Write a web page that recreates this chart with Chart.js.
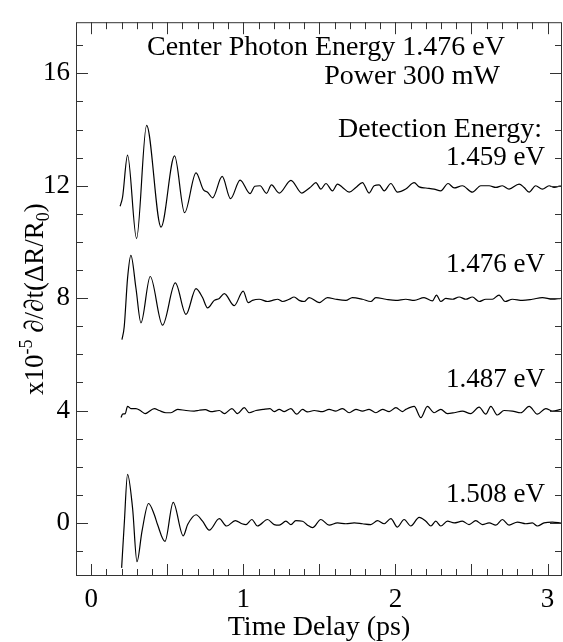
<!DOCTYPE html>
<html>
<head>
<meta charset="utf-8">
<script src="https://cdn.jsdelivr.net/npm/chart.js@4.4.0/dist/chart.umd.min.js"></script>
<style>
  html, body { margin: 0; padding: 0; background: #fff; }
</style>
</head>
<body>
<canvas id="chart" width="563" height="642"></canvas>
<script>
// time delay (ps) and signal (x10^-5, traces offset by 4) for each detection energy
const t1459 = [0.19, 0.206, 0.239, 0.298, 0.364, 0.459, 0.548, 0.614, 0.689, 0.737, 0.765, 0.798, 0.861, 0.916, 0.979, 1.044, 1.075, 1.11, 1.152, 1.185, 1.236, 1.313, 1.385, 1.411, 1.444, 1.477, 1.51, 1.543, 1.586, 1.619, 1.652, 1.696, 1.74, 1.783, 1.827, 1.86, 1.893, 1.926, 1.97, 2.013, 2.068, 2.123, 2.156, 2.2, 2.254, 2.298, 2.346, 2.386, 2.44, 2.506, 2.561, 2.616, 2.66, 2.703, 2.747, 2.813, 2.846, 2.879, 2.922, 2.966, 3.01, 3.043, 3.087];
const y1459 = [11.27, 11.59, 13.09, 10.12, 14.15, 10.53, 13.06, 11.04, 12.46, 11.86, 11.77, 11.57, 12.33, 11.54, 12.2, 11.72, 11.98, 12.0, 11.73, 12.03, 11.74, 12.19, 11.74, 11.82, 11.96, 12.11, 11.88, 12.08, 11.82, 12.06, 11.94, 11.77, 11.94, 12.11, 11.74, 12.0, 12.03, 11.82, 12.08, 11.77, 11.88, 12.11, 11.96, 11.92, 11.88, 11.82, 12.08, 11.92, 12.0, 11.77, 12.0, 12.0, 11.94, 12.0, 11.88, 12.06, 11.94, 11.77, 12.0, 11.88, 12.0, 11.94, 12.0];

const t1476 = [0.202, 0.217, 0.239, 0.261, 0.294, 0.327, 0.388, 0.469, 0.553, 0.623, 0.689, 0.732, 0.765, 0.809, 0.842, 0.875, 0.94, 0.999, 1.032, 1.06, 1.104, 1.159, 1.192, 1.225, 1.258, 1.302, 1.334, 1.367, 1.4, 1.433, 1.499, 1.553, 1.608, 1.674, 1.717, 1.783, 1.838, 1.871, 1.937, 2.003, 2.068, 2.123, 2.188, 2.243, 2.27, 2.298, 2.331, 2.375, 2.419, 2.463, 2.506, 2.55, 2.594, 2.637, 2.681, 2.721, 2.769, 2.835, 2.9, 2.966, 3.032, 3.087];
const y1476 = [6.52, 6.98, 8.71, 9.52, 8.36, 7.12, 8.77, 7.04, 8.54, 7.42, 8.34, 8.02, 7.65, 7.92, 7.99, 8.16, 7.73, 8.25, 7.84, 7.92, 7.96, 7.88, 7.92, 7.96, 7.88, 7.96, 8.04, 7.92, 7.88, 8.02, 7.84, 8.02, 7.96, 7.92, 8.02, 7.96, 7.88, 8.02, 7.96, 7.92, 7.96, 7.92, 8.02, 7.9, 8.11, 7.88, 7.99, 7.96, 8.04, 7.96, 8.04, 7.88, 7.96, 7.96, 8.11, 7.88, 7.96, 7.92, 7.96, 8.02, 7.96, 7.99];

const t1487 = [0.196, 0.206, 0.224, 0.239, 0.261, 0.294, 0.327, 0.355, 0.415, 0.447, 0.491, 0.524, 0.568, 0.623, 0.677, 0.71, 0.75, 0.787, 0.842, 0.875, 0.925, 0.962, 1.006, 1.039, 1.083, 1.13, 1.175, 1.203, 1.236, 1.269, 1.313, 1.35, 1.389, 1.422, 1.466, 1.52, 1.564, 1.608, 1.652, 1.696, 1.74, 1.783, 1.827, 1.871, 1.915, 1.959, 2.003, 2.046, 2.068, 2.123, 2.167, 2.21, 2.254, 2.298, 2.342, 2.386, 2.44, 2.495, 2.55, 2.594, 2.627, 2.67, 2.714, 2.769, 2.824, 2.879, 2.933, 2.988, 3.032, 3.087];
const y1487 = [3.75, 3.87, 3.89, 4.15, 4.07, 4.07, 3.98, 3.89, 4.07, 4.0, 3.92, 3.92, 4.04, 4.0, 3.98, 4.01, 4.03, 3.96, 4.0, 3.89, 4.07, 3.89, 4.1, 3.92, 4.0, 4.04, 4.07, 3.96, 4.04, 3.96, 4.07, 3.87, 4.04, 3.95, 4.0, 3.96, 4.04, 3.98, 4.07, 3.92, 4.04, 3.98, 4.04, 3.92, 4.04, 3.96, 4.1, 3.96, 4.04, 4.15, 3.75, 4.15, 3.92, 4.04, 3.89, 3.92, 3.98, 3.89, 4.12, 3.87, 4.15, 3.84, 4.0, 3.98, 3.92, 4.15, 3.87, 4.07, 3.98, 4.04];

const t1508 = [0.2, 0.217, 0.239, 0.272, 0.301, 0.334, 0.377, 0.415, 0.436, 0.485, 0.539, 0.605, 0.634, 0.689, 0.732, 0.776, 0.842, 0.89, 0.947, 0.991, 1.017, 1.056, 1.093, 1.159, 1.203, 1.236, 1.28, 1.313, 1.345, 1.389, 1.422, 1.455, 1.51, 1.564, 1.619, 1.674, 1.729, 1.783, 1.838, 1.882, 1.926, 1.97, 2.013, 2.057, 2.101, 2.156, 2.2, 2.233, 2.265, 2.298, 2.342, 2.386, 2.44, 2.484, 2.528, 2.572, 2.616, 2.66, 2.703, 2.747, 2.802, 2.857, 2.9, 2.933, 2.977, 3.032, 3.087];
const y1508 = [-1.6, -0.06, 1.73, 0.52, -1.38, -0.29, 0.69, 0.29, -0.06, -0.66, 0.73, -0.46, -0.06, 0.29, 0.06, -0.26, 0.15, -0.11, 0.08, -0.03, -0.06, 0.12, -0.11, 0.12, -0.06, -0.08, 0.06, -0.06, 0.08, 0.06, -0.08, -0.17, 0.12, -0.08, 0.0, -0.03, 0.0, -0.03, -0.06, 0.08, -0.03, 0.15, -0.15, 0.12, -0.11, 0.2, 0.06, -0.11, 0.06, -0.11, 0.06, 0.0, 0.06, -0.06, 0.08, -0.06, 0.0, -0.08, 0.12, -0.08, 0.03, -0.03, 0.0, -0.11, 0.0, 0.03, 0.0];

const traceLabels = ['1.459 eV', '1.476 eV', '1.487 eV', '1.508 eV'];
const xTicks = [0, 1, 2, 3];
const yTicks = [0, 4, 8, 12, 16];

const serif = '"Liberation Serif", "Times New Roman", serif';

function toPoints(t, y) {
  return t.map((x, i) => ({ x: x, y: y[i] }));
}

function trace(label, t, y) {
  return {
    label: label,
    data: toPoints(t, y),
    showLine: true,
    borderColor: '#000',
    borderWidth: 1.2,
    pointRadius: 0,
    cubicInterpolationMode: 'monotone',
    fill: false
  };
}

// inward ticks on all four sides plus the frame
const frameTicks = {
  id: 'frameTicks',
  afterDraw(chart) {
    const ctx = chart.ctx;
    const a = chart.chartArea;
    const xs = chart.scales.x, ys = chart.scales.y;
    ctx.save();
    ctx.strokeStyle = '#333';
    ctx.lineWidth = 1;
    ctx.strokeRect(a.left + 0.5, a.top + 0.5, a.right - a.left - 1, a.bottom - a.top - 1);
    ctx.beginPath();
    for (let i = 0; i <= 31; i++) {
      const v = i / 10;
      if (v > xs.max) break;
      const len = (i % 5 === 0) ? 12 : 7;
      const px = Math.round(xs.getPixelForValue(v)) + 0.5;
      ctx.moveTo(px, a.bottom); ctx.lineTo(px, a.bottom - len);
      ctx.moveTo(px, a.top); ctx.lineTo(px, a.top + len);
    }
    for (let v = -1; v <= 17; v++) {
      const len = (v % 4 === 0) ? 12 : 7;
      const py = Math.round(ys.getPixelForValue(v)) + 0.5;
      ctx.moveTo(a.left, py); ctx.lineTo(a.left + len, py);
      ctx.moveTo(a.right, py); ctx.lineTo(a.right - len, py);
    }
    ctx.stroke();
    ctx.restore();
  }
};

// y title with super/subscript and the text annotations
const texts = {
  id: 'texts',
  afterDraw(chart) {
    const ctx = chart.ctx;
    const a = chart.chartArea;
    const big = '27px ' + serif, small = '18px ' + serif, words = '28px ' + serif;
    ctx.save();
    ctx.fillStyle = '#000';
    ctx.textBaseline = 'alphabetic';

    const parts = [['x10', big, 0], ['-5', small, -11], [' \u2202/\u2202t(\u0394R/R', big, 0], ['0', small, 6], [')', big, 0]];
    let total = 0;
    parts.forEach(p => { ctx.font = p[1]; p.w = ctx.measureText(p[0]).width; total += p.w; });
    ctx.save();
    ctx.translate(43, (a.top + a.bottom) / 2);
    ctx.rotate(-Math.PI / 2);
    ctx.textAlign = 'left';
    let x = -total / 2;
    parts.forEach(p => { ctx.font = p[1]; ctx.fillText(p[0], x, p[2]); x += p.w; });
    ctx.restore();

    ctx.textAlign = 'right';
    ctx.font = words;
    ctx.fillText('Center Photon Energy 1.476 eV', 505, 55);
    ctx.fillText('Power 300 mW', 500, 84);
    ctx.fillText('Detection Energy:', 542, 137);
    ctx.font = big;
    ctx.fillText(traceLabels[0], 545, 165);
    ctx.fillText(traceLabels[1], 545, 272);
    ctx.fillText(traceLabels[2], 545, 387);
    ctx.fillText(traceLabels[3], 545, 502);
    ctx.restore();
  }
};

new Chart(document.getElementById('chart'), {
  type: 'scatter',
  data: {
    datasets: [
      trace(traceLabels[0], t1459, y1459),
      trace(traceLabels[1], t1476, y1476),
      trace(traceLabels[2], t1487, y1487),
      trace(traceLabels[3], t1508, y1508)
    ]
  },
  options: {
    responsive: false,
    animation: false,
    devicePixelRatio: 1,
    layout: { padding: { top: 8, right: 1, left: 0, bottom: 0 } },
    plugins: {
      legend: { display: false },
      tooltip: { enabled: false }
    },
    scales: {
      x: {
        type: 'linear',
        min: -0.1,
        max: 3.095,
        grid: { display: false, drawTicks: false },
        border: { display: false },
        afterBuildTicks: s => { s.ticks = xTicks.map(v => ({ value: v })); },
        afterFit: s => { s.height = 66; },
        ticks: {
          color: '#000',
          font: { family: serif, size: 27 },
          padding: 8,
          maxRotation: 0,
          autoSkip: false
        },
        title: {
          display: true,
          text: 'Time Delay (ps)',
          color: '#000',
          font: { family: serif, size: 28, lineHeight: 1 },
          padding: { top: 0, bottom: 0 }
        }
      },
      y: {
        type: 'linear',
        min: -1.89,
        max: 17.82,
        grid: { display: false, drawTicks: false },
        border: { display: false },
        afterBuildTicks: s => { s.ticks = yTicks.map(v => ({ value: v })); },
        afterFit: s => { s.width = 76; },
        ticks: {
          color: '#000',
          font: { family: serif, size: 27 },
          padding: 6
        }
      }
    }
  },
  plugins: [frameTicks, texts]
});
</script>
</body>
</html>
